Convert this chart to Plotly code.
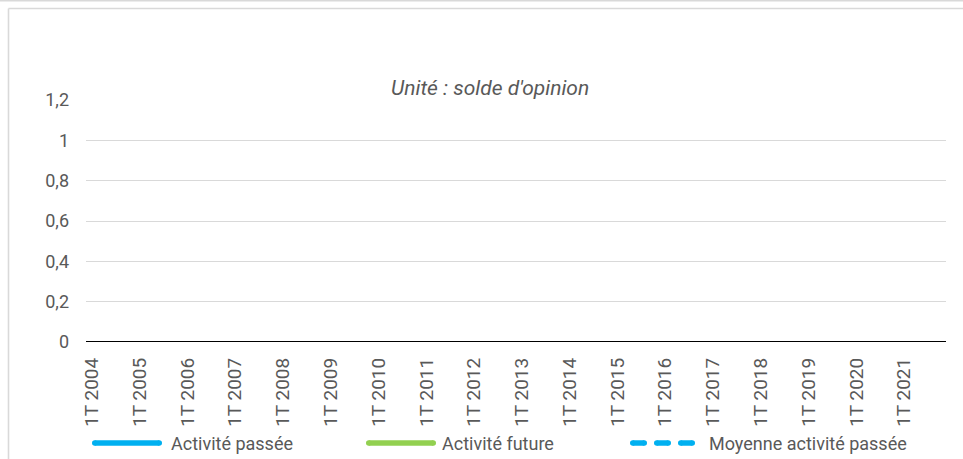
import plotly.graph_objects as go

W, H = 963, 459

# ---- data -------------------------------------------------------------
YEARS = list(range(2004, 2022))
QUARTERS = ["1T", "2T", "3T", "4T"]
CATEGORIES = [f"{q} {y}" for y in YEARS for q in QUARTERS]
TICK_LABELS = [f"1T {y}" for y in YEARS]

# the reference chart shows no plotted values for any series
ACTIVITE_PASSEE = []
ACTIVITE_FUTURE = []
MOYENNE_ACTIVITE_PASSEE = []

Y_TICKS = [0, 0.2, 0.4, 0.6, 0.8, 1, 1.2]
SERIES_NAMES = ["Activité passée", "Activité future", "Moyenne activité passée"]

BLUE = "#00B0F0"
GREEN = "#92D050"
TEXT = "#595959"
GRID = "#D9D9D9"
FONT = "Roboto"


def px(x):
    return x / W


def py(y):
    return 1 - y / H


# plot area in pixels
L, R, T, B = 86, 946, 100, 342

fig = go.Figure()
fig.add_trace(go.Scatter(x=CATEGORIES[:len(ACTIVITE_PASSEE)], y=ACTIVITE_PASSEE,
                         mode="lines", name=SERIES_NAMES[0],
                         line=dict(color=BLUE, width=3)))
fig.add_trace(go.Scatter(x=CATEGORIES[:len(ACTIVITE_FUTURE)], y=ACTIVITE_FUTURE,
                         mode="lines", name=SERIES_NAMES[1],
                         line=dict(color=GREEN, width=3)))
fig.add_trace(go.Scatter(x=CATEGORIES[:len(MOYENNE_ACTIVITE_PASSEE)], y=MOYENNE_ACTIVITE_PASSEE,
                         mode="lines", name=SERIES_NAMES[2],
                         line=dict(color=BLUE, width=3, dash="dash")))

fig.update_layout(
    width=W, height=H,
    margin=dict(l=0, r=0, t=0, b=0),
    paper_bgcolor="white", plot_bgcolor="white",
    separators=", ",
    showlegend=False,
    font=dict(family=FONT, size=18, color=TEXT),
    xaxis=dict(
        domain=[px(L), px(R)],
        type="category",
        categoryorder="array", categoryarray=CATEGORIES,
        range=[-0.5, len(CATEGORIES) - 0.5],
        tickmode="array", tickvals=TICK_LABELS, ticktext=TICK_LABELS,
        tickangle=-90,
        showgrid=False, zeroline=False, showline=False,
        ticks="", ticklabelstandoff=11,
        tickfont=dict(family=FONT, size=19, color=TEXT),
        automargin=False, fixedrange=True,
    ),
    yaxis=dict(
        domain=[py(B), py(T)],
        range=[0, 1.2],
        tickmode="array", tickvals=Y_TICKS,
        showgrid=True, gridcolor=GRID, gridwidth=1.4,
        zeroline=False, showline=False,
        ticks="", ticklabelstandoff=16,
        tickfont=dict(family=FONT, size=18, color=TEXT),
        automargin=False, fixedrange=True,
    ),
)

shapes = []
# zero line
shapes.append(dict(type="line", xref="paper", yref="y", x0=px(L), x1=px(R), y0=0, y1=0,
                   line=dict(color="black", width=2.2), layer="above"))
# frame lines
shapes.append(dict(type="line", xref="paper", yref="paper", x0=0, x1=1, y0=py(0.8), y1=py(0.8),
                   line=dict(color="#D9D9D9", width=1.6)))
shapes.append(dict(type="line", xref="paper", yref="paper", x0=px(8.5), x1=1, y0=py(8.5), y1=py(8.5),
                   line=dict(color="#D9D9D9", width=1.6)))
shapes.append(dict(type="line", xref="paper", yref="paper", x0=px(8.5), x1=px(8.5), y0=py(8.5), y1=0,
                   line=dict(color="#D9D9D9", width=1.6)))

# legend (drawn manually to reproduce the long, round-capped line samples)
LEG_Y = 443
LW = 5.5


def seg(x0, x1, col):
    r = LW / 2
    out = [dict(type="line", xref="paper", yref="paper",
                x0=px(x0 + r), x1=px(x1 - r), y0=py(LEG_Y), y1=py(LEG_Y),
                line=dict(color=col, width=LW))]
    for cx in (x0 + r, x1 - r):
        out.append(dict(type="circle", xref="paper", yref="paper",
                        x0=px(cx - r), x1=px(cx + r), y0=py(LEG_Y + r), y1=py(LEG_Y - r),
                        fillcolor=col, line=dict(width=0)))
    return out


legend_items = [
    ([(92, 162)], BLUE, 169, SERIES_NAMES[0]),
    ([(366, 436)], GREEN, 440, SERIES_NAMES[1]),
    ([(630, 647), (654, 671), (678, 695)], BLUE, 707, SERIES_NAMES[2]),
]
annotations = []
for segs, col, tx, name in legend_items:
    for a, b in segs:
        shapes.extend(seg(a, b, col))
    annotations.append(dict(xref="paper", yref="paper", x=px(tx), y=py(LEG_Y),
                            xanchor="left", yanchor="middle", showarrow=False,
                            text=name, font=dict(family=FONT, size=18, color=TEXT)))

annotations.append(dict(xref="paper", yref="paper", x=px(490), y=py(88),
                        xanchor="center", yanchor="middle", showarrow=False,
                        text="<i>Unité : solde d'opinion</i>",
                        font=dict(family=FONT, size=21, color=TEXT)))

fig.update_layout(shapes=shapes, annotations=annotations)

fig.write_html("out.html",
               config={"displayModeBar": False},
               post_script="document.body.style.margin='0';document.body.style.overflow='hidden';")
